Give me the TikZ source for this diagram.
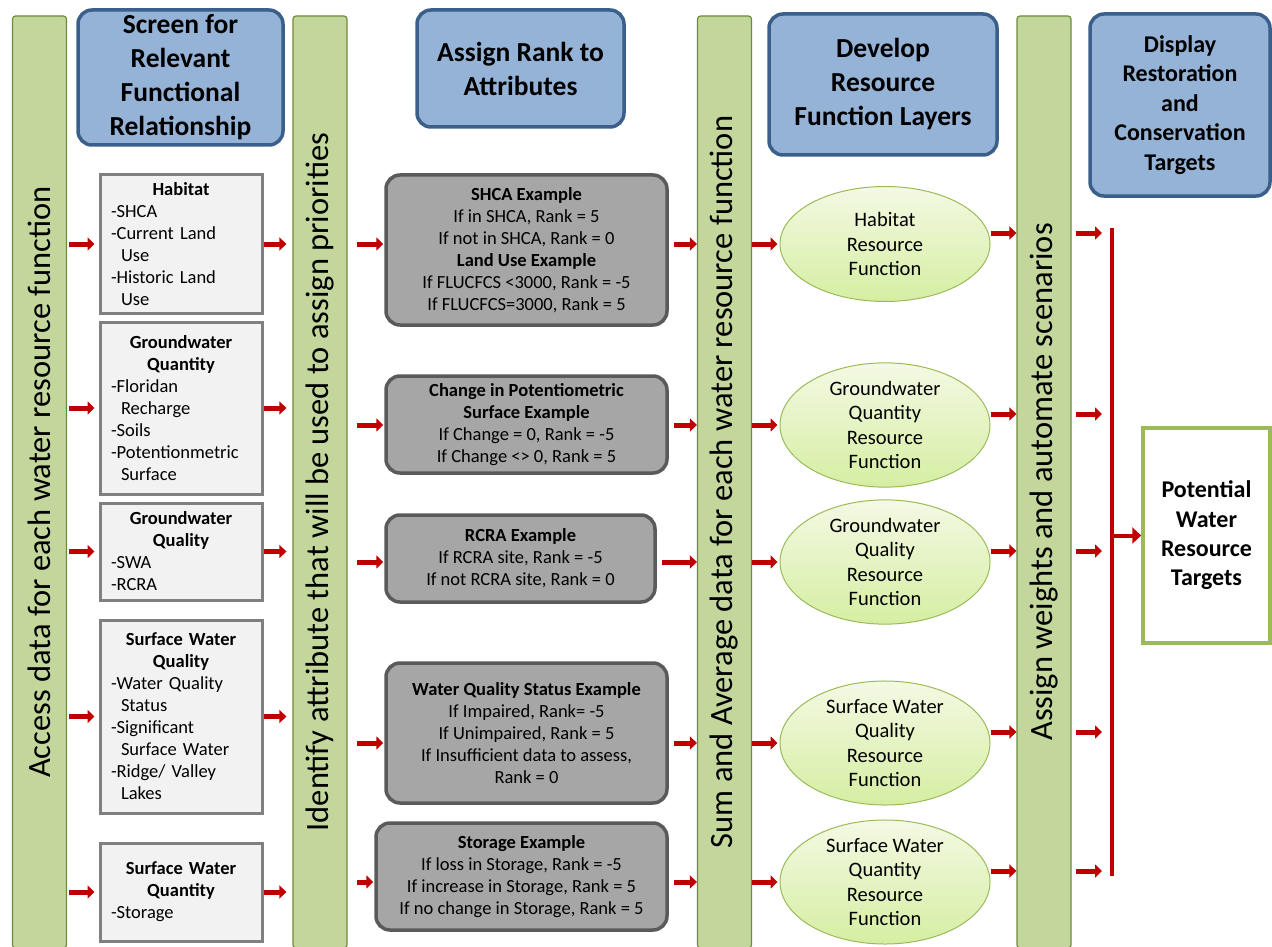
\documentclass[tikz,border=0pt]{standalone}
\usepackage{fontspec}
\setmainfont{Carlito}
\usepackage{tikz}
\usetikzlibrary{calc,arrows.meta,positioning,shapes.geometric}

\definecolor{barfill}{HTML}{C3D69B}
\definecolor{barline}{HTML}{6F8A3C}
\definecolor{hdrfill}{HTML}{95B3D7}
\definecolor{hdrline}{HTML}{3A5F8B}
\definecolor{srcfill}{HTML}{F2F2F2}
\definecolor{srcline}{HTML}{808080}
\definecolor{rulefill}{HTML}{A6A6A6}
\definecolor{ruleline}{HTML}{5A5A5A}
\definecolor{elltop}{HTML}{F4F9E4}
\definecolor{ellbot}{HTML}{D5EEA2}
\definecolor{ellline}{HTML}{9BBB59}
\definecolor{flowred}{HTML}{C00000}

\setlength{\parindent}{0pt}

\begin{document}
\begin{tikzpicture}[x=1pt,y=-1pt]

  % Canvas
  \useasboundingbox (0,0) rectangle (1272,947);

  % Parameters
  \def\lift{11}

  % Styles
  \tikzstyle{bar}=[draw=barline,line width=1.2pt,fill=barfill,rounded corners=3pt,rotate=90,minimum width=932pt,minimum height=54pt,inner sep=0pt,font=\fontsize{32.5}{38}\selectfont]
  \tikzstyle{hdr}=[draw=hdrline,line width=3.5pt,fill=hdrfill,rounded corners=14pt,align=center,inner sep=0pt,font=\bfseries\fontsize{27.5}{34}\selectfont]
  \tikzstyle{src}=[draw=srcline,line width=3pt,fill=srcfill,text width=140pt,inner xsep=11pt,inner ysep=0pt,align=left,font=\fontsize{18.5}{22}\selectfont]
  \tikzstyle{rule}=[draw=ruleline,line width=3.5pt,fill=rulefill,rounded corners=14pt,align=center,inner sep=0pt,font=\fontsize{18.5}{22}\selectfont]
  \tikzstyle{func}=[ellipse,draw=ellline,line width=1pt,top color=elltop,bottom color=ellbot,minimum width=210pt,minimum height=115pt,inner sep=0pt,align=center,font=\fontsize{20.5}{24.5}\selectfont]
  \tikzstyle{target}=[draw=ellline,line width=3.5pt,fill=white,minimum width=127pt,minimum height=215pt,align=center,font=\bfseries\fontsize{24}{29.3}\selectfont]
  \tikzstyle{flow}=[-{Triangle[length=7pt,width=13pt]},line width=5pt,flowred]

  % Green bars
  \node[bar] (access)  at (39.5,482)  {Access data for each water resource function};
  \node[bar] (ident)   at (320,482)   {Identify attribute that will be used to assign priorities};
  \node[bar] (sumavg)  at (724.5,482) {Sum and Average data for each water resource function};
  \node[bar] (weights) at (1044,482)  {Assign weights and automate scenarios};

  % Headers
  \node[hdr,minimum width=205pt,minimum height=135pt] (screen) at (180.5,77.5) {Screen for\\Relevant\\Functional\\Relationship};
  \node[hdr,minimum width=207pt,minimum height=117pt] (rank) at (520.5,68.5) {Assign Rank to\\Attributes};
  \node[hdr,minimum width=228pt,minimum height=141pt] (layers) at (883,84.5) {Develop\\Resource\\Function Layers};
  \node[hdr,minimum width=180pt,minimum height=182pt,font=\bfseries\fontsize{24}{29.5}\selectfont] (display) at (1180,105) {Display\\Restoration\\and\\Conservation\\Targets};

  % Data sources
  \node[src,minimum height=138pt] (hab) at (181,244) {{\centering\bfseries Habitat\par}-SHCA\\-Current Land\\\hspace*{10pt}Use\\-Historic Land\\\hspace*{10pt}Use};
  \node[src,minimum height=172pt] (gwqn) at (181,408) {{\centering\bfseries Groundwater\\Quantity\par}-Floridan\\\hspace*{10pt}Recharge\\-Soils\\-Potentionmetric\\\hspace*{10pt}Surface};
  \node[src,minimum height=97pt] (gwql) at (181,551.5) {{\centering\bfseries Groundwater\\Quality\par}-SWA\\-RCRA};
  \node[src,minimum height=193pt] (swql) at (181,716.5) {{\centering\bfseries Surface Water\\Quality\par}-Water Quality\\\hspace*{10pt}Status\\-Significant\\\hspace*{10pt}Surface Water\\-Ridge/ Valley\\\hspace*{10pt}Lakes};
  \node[src,minimum height=98pt] (swqn) at (181,892) {{\centering\bfseries Surface Water\\Quantity\par}-Storage};

  % Rank rules
  \node[rule,minimum width=281pt,minimum height=150pt] (shca) at (526.5,250) {\textbf{SHCA Example}\\If in SHCA, Rank = 5\\If not in SHCA, Rank = 0\\\textbf{Land Use Example}\\If FLUCFCS <3000, Rank = -5\\If FLUCFCS=3000, Rank = 5};
  \node[rule,minimum width=281pt,minimum height=97pt] (pot) at (526.5,424.5) {\textbf{Change in Potentiometric}\\\textbf{Surface Example}\\If Change = 0, Rank = -5\\If Change <> 0, Rank = 5};
  \node[rule,minimum width=269pt,minimum height=87pt] (rcra) at (520.5,558.5) {\textbf{RCRA Example}\\If RCRA site, Rank = -5\\If not RCRA site, Rank = 0};
  \node[rule,minimum width=281pt,minimum height=140pt] (wqs) at (526.5,733) {\textbf{Water Quality Status Example}\\If Impaired, Rank= -5\\If Unimpaired, Rank = 5\\If Insufficient data to assess,\\Rank = 0};
  \node[rule,minimum width=291pt,minimum height=107pt] (stor) at (521.5,876.5) {\textbf{Storage Example}\\If loss in Storage, Rank = -5\\If increase in Storage, Rank = 5\\If no change in Storage, Rank = 5};

  % Resource functions
  \node[func] (habf)  at (885,244) {Habitat\\Resource\\Function};
  \node[func] (gwqnf) at (885,425) {Groundwater\\Quantity\\Resource\\Function};
  \node[func] (gwqlf) at (885,562) {Groundwater\\Quality\\Resource\\Function};
  \node[func] (swqlf) at (885,743) {Surface Water\\Quality\\Resource\\Function};
  \node[func] (swqnf) at (885,882) {Surface Water\\Quantity\\Resource\\Function};

  % Targets
  \node[target] (targets) at (1206.5,535.5) {Potential\\Water\\Resource\\Targets};
  \coordinate (trunk-top) at (1112,228);
  \coordinate (trunk-bot) at (1112,876);

  % Draw flow arrows
  \foreach \s/\r/\f in {hab/shca/habf,gwqn/pot/gwqnf,gwql/rcra/gwqlf,swql/wqs/swqlf,swqn/stor/swqnf}{
    \draw[flow,shorten <=2pt,shorten >=4pt] (access.south |- \s.west) -- (\s.west);
    \draw[flow,shorten >=6pt] (\s.east) -- (ident.north |- \s.east);
    \draw[flow,shorten <=9pt,shorten >=1pt] (ident.south |- \f.west) -- (\r.west |- \f.west);
    \draw[flow,shorten <=5pt] (\r.east |- \f.west) -- (sumavg.north |- \f.west);
    \draw[flow,shorten >=2pt] (sumavg.south |- \f.west) -- (\f.west);
    \draw[flow] ($(\f.east)+(0,-\lift)$) -- ($(weights.north |- \f.east)+(0,-\lift)$);
    \draw[flow,shorten <=4pt,shorten >=10pt] ($(weights.south |- \f.east)+(0,-\lift)$) -- ($(trunk-top |- \f.east)+(0,-\lift)$);
  }

  % Draw trunk to targets
  \draw[flowred,line width=3.5pt] (trunk-top) -- (trunk-bot);
  \draw[flow,line width=4pt,-{Triangle[length=9pt,width=16pt]}] (trunk-top |- targets.west) -- (targets.west);

\end{tikzpicture}
\end{document}
